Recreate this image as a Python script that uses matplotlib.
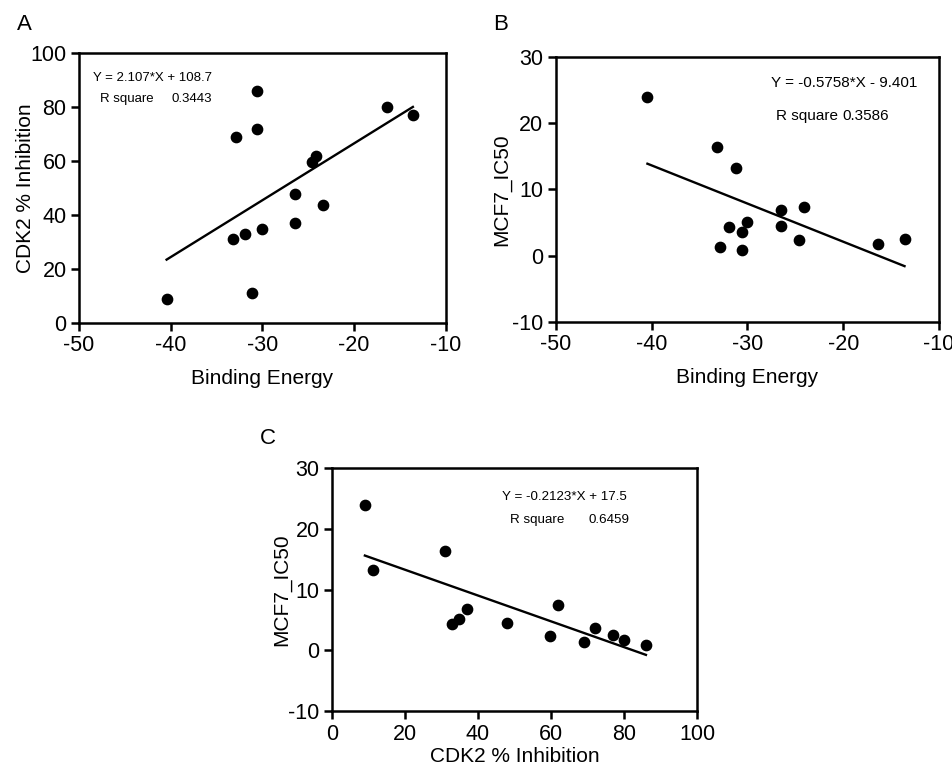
import matplotlib
matplotlib.use("Agg")
import matplotlib.pyplot as plt
import numpy as np

# per compound: docking binding energy, CDK2 % inhibition, MCF7 IC50 (nan = not measured)
binding_energy = [-40.45, -32.9, -30.55, -30.55, -33.2, -31.9, -30.05, -31.15,
                  -26.45, -26.45, -24.6, -24.15, -23.35, -16.4, -13.6]
cdk2_inhibition = [9.0, 68.9, 86.0, 72.0, 31.0, 32.9, 34.9, 11.1,
                   47.9, 36.9, 59.8, 61.9, 43.8, 80.0, 77.0]
mcf7_ic50 = [23.9, 1.3, 0.9, 3.65, 16.35, 4.4, 5.15, 13.2,
             4.5, 6.85, 2.35, 7.4, np.nan, 1.75, 2.5]

# fitted lines as reported on the figure: (slope, intercept, equation text, r square text)
fit_a = (2.107, 108.7, "Y = 2.107*X + 108.7", "0.3443")
fit_b = (-0.5758, -9.401, "Y = -0.5758*X - 9.401", "0.3586")
fit_c = (-0.2123, 17.5, "Y = -0.2123*X + 17.5", "0.6459")

plt.rcParams["font.family"] = ["Liberation Sans", "DejaVu Sans"]
plt.rcParams["axes.unicode_minus"] = False

fontTick = 15.5
fontLabel = 15


def styleAxes(ax):
    for s in ax.spines.values():
        s.set_linewidth(1.8)
    ax.tick_params(direction="out", length=6, width=1.8, labelsize=fontTick, pad=3)


def scatterFit(ax, x, y, fit):
    x = np.array(x, dtype=float)
    y = np.array(y, dtype=float)
    ok = ~np.isnan(x) & ~np.isnan(y)
    ax.scatter(x[ok], y[ok], s=55, color="black", zorder=3, clip_on=False)
    xl = np.array([x[ok].min(), x[ok].max()])
    ax.plot(xl, fit[0] * xl + fit[1], color="black", lw=1.7, zorder=2)


fig = plt.figure(figsize=(9.53, 7.69), dpi=100)

# A
axA = fig.add_axes([0.0829, 0.58, 0.385, 0.351])
scatterFit(axA, binding_energy, cdk2_inhibition, fit_a)
axA.set_xlim(-50, -10)
axA.set_ylim(0, 100)
axA.set_xticks(np.arange(-50, -9, 10))
axA.set_yticks(np.arange(0, 101, 20))
axA.set_xlabel("Binding Energy", fontsize=fontLabel, labelpad=9)
axA.set_ylabel("CDK2 % Inhibition", fontsize=fontLabel, labelpad=-3)
axA.text(-48.5, 90.7, fit_a[2], fontsize=9.5, va="center")
axA.text(-47.7, 83.0, "R square", fontsize=9.5, va="center")
axA.text(-39.9, 83.0, fit_a[3], fontsize=9.5, va="center")
styleAxes(axA)

# B
axB = fig.add_axes([0.5834, 0.5813, 0.4019, 0.3446])
scatterFit(axB, binding_energy, mcf7_ic50, fit_b)
axB.set_xlim(-50, -10)
axB.set_ylim(-10, 30)
axB.set_xticks(np.arange(-50, -9, 10))
axB.set_yticks(np.arange(-10, 31, 10))
axB.set_xlabel("Binding Energy", fontsize=fontLabel, labelpad=9)
axB.set_ylabel("MCF7_IC50", fontsize=fontLabel, labelpad=1)
axB.text(-27.55, 26.1, fit_b[2], fontsize=11, va="center")
axB.text(-27.0, 21.1, "R square", fontsize=11, va="center")
axB.text(-20.1, 21.1, fit_b[3], fontsize=11, va="center")
styleAxes(axB)

# C
axC = fig.add_axes([0.3484, 0.0754, 0.383, 0.316])
scatterFit(axC, cdk2_inhibition, mcf7_ic50, fit_c)
axC.set_xlim(0, 100)
axC.set_ylim(-10, 30)
axC.set_xticks(np.arange(0, 101, 20))
axC.set_yticks(np.arange(-10, 31, 10))
axC.set_xlabel("CDK2 % Inhibition", fontsize=fontLabel, labelpad=2)
axC.set_ylabel("MCF7_IC50", fontsize=fontLabel, labelpad=-2)
axC.text(46.6, 25.2, fit_c[2], fontsize=9.6, va="center")
axC.text(48.8, 21.4, "R square", fontsize=9.6, va="center")
axC.text(70.4, 21.4, fit_c[3], fontsize=9.6, va="center")
styleAxes(axC)

fig.text(17 / 953, 1 - 25 / 769, "A", fontsize=16, va="center")
fig.text(493 / 953, 1 - 25 / 769, "B", fontsize=16, va="center")
fig.text(260 / 953, 1 - 438 / 769, "C", fontsize=16, va="center")

fig.savefig("out.png", dpi=100)
